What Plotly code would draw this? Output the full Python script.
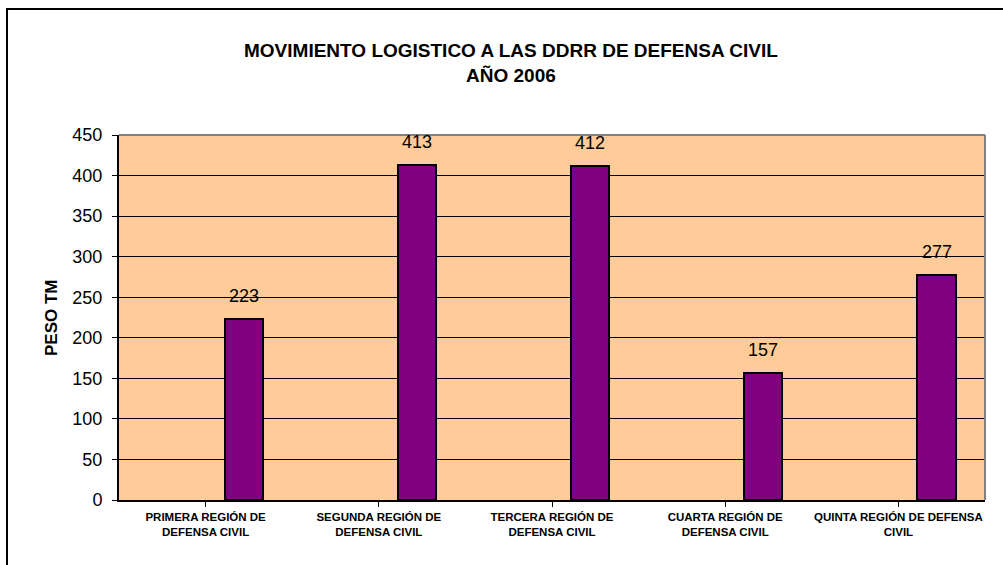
import plotly.graph_objects as go

categories = [
    "PRIMERA REGIÓN DE<br>DEFENSA CIVIL",
    "SEGUNDA REGIÓN DE<br>DEFENSA CIVIL",
    "TERCERA REGIÓN DE<br>DEFENSA CIVIL",
    "CUARTA REGIÓN DE<br>DEFENSA CIVIL",
    "QUINTA REGIÓN DE DEFENSA<br>CIVIL",
]
values = [223, 413, 412, 157, 277]
title_line1 = "MOVIMIENTO LOGISTICO A LAS DDRR DE DEFENSA CIVIL"
title_line2 = "AÑO 2006"
y_title = "PESO TM"

FONT = "Liberation Sans, Arial, sans-serif"
BAR_OFFSET = 0.11
BAR_WIDTH = 0.22

W, H = 1003, 565
# plot area in page pixels: x 119..985, y 135..500
ML, MR, MT, MB = 119, 18, 135, 65
PW = W - ML - MR
PH = H - MT - MB


def px_x(px):
    return (px - ML) / PW


def px_y(py):
    return (H - MB - py) / PH


fig = go.Figure()
fig.add_trace(go.Bar(
    x=list(range(len(categories))),
    y=values,
    offset=BAR_OFFSET,
    width=BAR_WIDTH,
    marker=dict(color="#800080", line=dict(color="#000000", width=2)),
    hoverinfo="y",
))

annotations = []
for i, v in enumerate(values):
    annotations.append(dict(
        x=i + BAR_OFFSET + BAR_WIDTH / 2, y=v, xref="x", yref="y",
        text=str(v), showarrow=False, yanchor="bottom", yshift=11,
        font=dict(family=FONT, size=18, color="#000000"),
    ))

annotations += [
    dict(x=px_x(511), y=px_y(63), xref="paper", yref="paper",
         text="<b>%s</b><br><b>%s</b>" % (title_line1, title_line2),
         showarrow=False, xanchor="center", yanchor="middle", align="center",
         font=dict(family=FONT, size=19, color="#000000")),
    dict(x=px_x(51), y=px_y(318), xref="paper", yref="paper", text="<b>%s</b>" % y_title,
         showarrow=False, xanchor="center", yanchor="middle", textangle=-90,
         font=dict(family=FONT, size=17, color="#000000")),
]

shapes = [
    # outer frame
    dict(type="rect", xref="paper", yref="paper",
         x0=px_x(7), x1=px_x(1012), y0=px_y(9), y1=px_y(575),
         line=dict(color="#000000", width=2), layer="above"),
    # top and right plot border (gray)
    dict(type="line", xref="paper", yref="paper", x0=0, x1=1, y0=1, y1=1,
         line=dict(color="#808080", width=2), layer="above"),
    dict(type="line", xref="paper", yref="paper", x0=1, x1=1, y0=0, y1=1,
         line=dict(color="#808080", width=2), layer="above"),
]

fig.update_layout(
    width=W, height=H,
    margin=dict(l=ML, r=MR, t=MT, b=MB, pad=0),
    paper_bgcolor="#FFFFFF",
    plot_bgcolor="#FFCC99",
    showlegend=False,
    font=dict(family=FONT, color="#000000"),
    annotations=annotations,
    shapes=shapes,
    bargap=0,
)

fig.update_xaxes(
    range=[-0.5, len(categories) - 0.5],
    tickmode="array",
    tickvals=list(range(len(categories))),
    ticktext=categories,
    tickfont=dict(family=FONT, size=11.5, color="#000000", weight="bold"),
    showline=True, linecolor="#000000", linewidth=2,
    ticks="outside", ticklen=5, tickcolor="#000000", tickson="boundaries",
    showgrid=False, zeroline=False, fixedrange=True,
)
fig.update_yaxes(
    range=[0, 450],
    dtick=50,
    tickfont=dict(family=FONT, size=18, color="#000000"),
    showline=True, linecolor="#000000", linewidth=2,
    ticks="outside", ticklen=5, tickcolor="#000000",
    ticklabelstandoff=6,
    showgrid=True, gridcolor="#000000", gridwidth=1,
    zeroline=False, fixedrange=True,
)

fig.write_html(
    "out.html",
    config={"displayModeBar": False},
    post_script="document.body.style.margin='0';document.body.style.padding='0';",
)
